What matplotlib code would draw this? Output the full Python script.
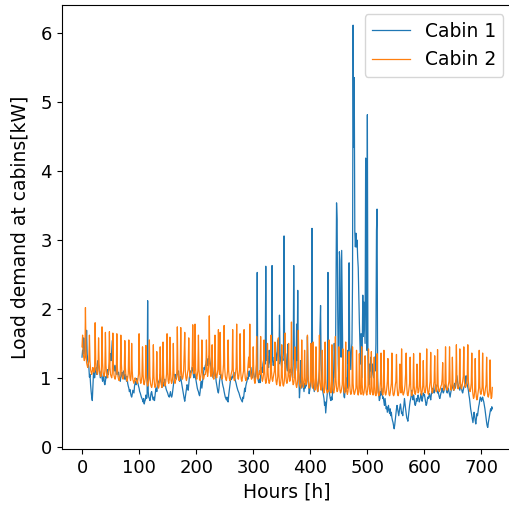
import numpy as np
import matplotlib.pyplot as plt

# hourly load, one row per day (kW)
cabin1_days = [
    [1.30, 1.40, 1.35, 1.58, 1.45, 1.35, 1.30, 1.40, 1.69, 1.35, 1.25, 1.20, 1.15, 1.01, 1.05, 0.90, 0.80, 0.72, 0.67, 0.85, 1.05, 1.10, 1.00, 1.07],
    [1.10, 1.15, 1.05, 1.20, 1.25, 1.18, 1.13, 1.08, 1.00, 1.05, 1.10, 1.00, 0.95, 0.99, 1.05, 0.93, 0.90, 0.95, 1.02, 1.00, 1.08, 1.12, 1.05, 1.15],
    [1.20, 1.29, 1.35, 1.25, 1.40, 1.54, 1.30, 1.20, 1.15, 1.10, 1.18, 1.12, 1.05, 1.15, 1.10, 1.05, 1.08, 1.02, 1.00, 0.95, 1.01, 1.05, 1.08, 1.00],
    [1.05, 1.10, 1.02, 0.98, 1.05, 1.00, 0.95, 1.02, 0.92, 0.88, 0.85, 0.80, 0.83, 0.78, 0.74, 0.72, 0.76, 0.82, 0.80, 0.78, 0.88, 0.92, 0.95, 0.90],
    [0.99, 0.95, 0.92, 0.88, 0.85, 0.80, 0.78, 0.75, 0.72, 0.70, 0.68, 0.65, 0.70, 0.62, 0.66, 0.68, 0.75, 0.70, 0.72, 2.12, 0.80, 0.72, 0.70, 0.67],
    [0.72, 0.78, 0.80, 0.75, 0.70, 0.68, 0.72, 0.67, 0.75, 0.82, 0.85, 0.80, 0.88, 0.90, 0.95, 0.93, 0.98, 1.05, 0.95, 0.92, 0.86, 0.90, 0.93, 0.88],
    [0.95, 0.98, 0.90, 0.85, 0.82, 0.80, 0.78, 0.75, 0.73, 0.72, 0.76, 0.80, 0.74, 0.72, 0.75, 0.82, 0.90, 0.95, 1.00, 1.05, 1.00, 0.98, 1.02, 1.08],
    [1.05, 1.10, 1.00, 0.95, 0.98, 1.02, 0.95, 0.90, 0.85, 0.80, 0.75, 0.70, 0.66, 0.72, 0.78, 0.85, 0.90, 0.88, 0.82, 0.90, 1.00, 1.05, 1.10, 1.08],
    [1.10, 1.15, 1.12, 1.05, 1.00, 1.08, 1.05, 1.00, 0.95, 0.90, 0.85, 0.82, 0.80, 0.76, 0.74, 0.80, 0.90, 0.95, 0.85, 0.92, 1.00, 1.08, 1.15, 1.12],
    [1.18, 1.20, 1.25, 1.22, 1.18, 1.28, 1.20, 1.32, 1.25, 1.20, 1.15, 1.10, 1.12, 1.05, 1.00, 1.08, 1.15, 1.10, 1.05, 0.95, 0.90, 0.85, 0.80, 0.78],
    [0.85, 0.95, 1.00, 1.05, 1.02, 0.98, 0.92, 0.88, 0.85, 0.80, 0.76, 0.72, 0.70, 0.68, 0.72, 0.66, 0.65, 0.75, 0.82, 0.88, 0.95, 1.00, 0.98, 1.02],
    [1.00, 1.05, 1.08, 1.02, 0.98, 0.95, 0.92, 0.88, 0.85, 0.82, 0.80, 0.78, 0.75, 0.72, 0.70, 0.68, 0.67, 0.65, 0.72, 0.70, 0.78, 0.85, 0.80, 0.88],
    [0.92, 0.95, 1.00, 0.98, 1.05, 1.10, 1.02, 1.08, 1.15, 1.05, 1.00, 1.08, 1.12, 1.05, 1.00, 0.98, 1.02, 1.10, 1.20, 2.53, 1.00, 0.95, 0.93, 0.98],
    [0.93, 1.05, 1.10, 1.15, 1.08, 1.20, 1.25, 1.30, 1.45, 1.20, 2.62, 1.30, 1.25, 1.32, 1.20, 1.15, 1.40, 1.25, 1.20, 1.15, 1.30, 2.63, 1.25, 1.18],
    [1.20, 1.30, 1.25, 1.37, 1.30, 1.25, 1.40, 1.55, 1.30, 1.20, 1.91, 1.35, 1.25, 1.20, 1.15, 1.30, 1.25, 1.40, 3.06, 1.30, 1.20, 1.35, 1.25, 1.15],
    [1.10, 1.49, 1.15, 1.07, 1.10, 1.12, 1.08, 1.15, 1.05, 1.00, 1.20, 2.63, 1.30, 1.20, 1.10, 1.15, 1.78, 1.25, 2.27, 1.10, 1.00, 0.71, 0.85, 1.25],
    [1.00, 0.85, 0.90, 0.95, 0.88, 0.80, 0.92, 0.85, 0.92, 0.88, 0.95, 1.60, 1.05, 0.90, 0.77, 0.82, 0.88, 0.95, 1.00, 3.17, 1.05, 0.90, 0.85, 0.80],
    [0.88, 0.92, 1.10, 0.95, 0.85, 0.80, 0.90, 1.00, 1.10, 1.70, 2.05, 1.20, 1.00, 0.85, 0.80, 0.75, 0.70, 0.60, 0.65, 0.49, 0.60, 0.70, 0.80, 2.53],
    [1.00, 0.80, 0.75, 0.70, 0.67, 0.72, 0.68, 0.80, 0.90, 1.10, 1.50, 1.30, 1.00, 2.20, 3.54, 3.30, 2.00, 1.20, 1.00, 2.83, 2.70, 1.50, 1.30, 2.85],
    [2.00, 1.20, 0.90, 0.73, 0.71, 0.85, 0.80, 0.95, 1.00, 0.85, 1.40, 1.20, 2.67, 1.50, 1.30, 1.12, 1.40, 1.50, 2.40, 6.12, 4.35, 5.36, 3.12, 2.90],
    [3.10, 2.90, 3.00, 2.75, 2.60, 2.20, 1.80, 1.50, 1.20, 1.64, 1.00, 1.40, 2.20, 1.60, 2.10, 1.80, 1.50, 4.19, 2.20, 1.40, 4.82, 1.30, 1.00, 0.90],
    [1.20, 1.10, 1.30, 1.00, 1.15, 1.20, 1.05, 1.00, 1.15, 1.30, 1.10, 1.50, 3.14, 3.45, 1.00, 0.80, 0.75, 0.67, 0.70, 0.80, 0.75, 0.85, 0.78, 0.70],
    [0.72, 0.65, 0.60, 0.70, 0.62, 0.55, 0.58, 0.50, 0.55, 0.60, 0.52, 0.48, 0.55, 0.45, 0.50, 0.42, 0.38, 0.35, 0.30, 0.26, 0.32, 0.40, 0.48, 0.55],
    [0.60, 0.55, 0.50, 0.45, 0.52, 0.58, 0.62, 0.55, 0.48, 0.50, 0.45, 0.55, 0.60, 0.70, 0.62, 0.55, 0.48, 0.42, 0.40, 0.37, 0.45, 0.52, 0.60, 0.66],
    [0.70, 0.75, 0.82, 0.72, 0.68, 0.75, 0.70, 0.62, 0.60, 0.63, 0.70, 0.66, 0.72, 0.75, 0.70, 0.65, 0.68, 0.72, 0.77, 0.70, 0.66, 0.72, 0.78, 0.74],
    [0.76, 0.70, 0.65, 0.60, 0.62, 0.68, 0.72, 0.70, 0.74, 0.77, 0.72, 0.68, 0.75, 0.80, 0.78, 0.85, 0.82, 0.78, 0.80, 0.88, 0.90, 0.85, 0.82, 0.78],
    [0.80, 0.76, 0.72, 0.70, 0.74, 0.78, 0.80, 0.85, 0.82, 0.78, 0.80, 0.86, 0.90, 0.88, 0.85, 0.80, 0.78, 0.82, 0.85, 0.80, 0.76, 0.72, 0.78, 0.82],
    [0.85, 0.90, 0.88, 0.82, 0.86, 0.92, 0.85, 0.90, 0.96, 1.03, 0.95, 0.90, 0.88, 0.85, 0.82, 0.86, 0.90, 0.85, 0.80, 0.78, 0.82, 0.86, 0.88, 0.90],
    [0.92, 1.03, 0.95, 0.90, 0.86, 0.82, 0.75, 0.70, 0.62, 0.55, 0.50, 0.45, 0.40, 0.35, 0.42, 0.50, 0.45, 0.38, 0.33, 0.40, 0.48, 0.45, 0.52, 0.58],
    [0.62, 0.68, 0.72, 0.70, 0.66, 0.70, 0.72, 0.68, 0.65, 0.60, 0.55, 0.48, 0.40, 0.35, 0.30, 0.28, 0.35, 0.40, 0.45, 0.50, 0.55, 0.52, 0.58, 0.55],
]

cabin2_days = [
    [1.45, 1.62, 1.35, 1.30, 1.25, 1.28, 2.02, 1.40, 1.22, 1.18, 1.15, 1.20, 1.25, 1.62, 1.25, 1.12, 1.08, 1.05, 1.10, 1.15, 1.12, 1.08, 1.10, 1.80],
    [1.25, 1.12, 1.08, 1.05, 1.10, 1.58, 1.20, 1.10, 1.05, 1.02, 1.08, 1.74, 1.22, 1.08, 1.04, 1.02, 1.10, 1.66, 1.18, 1.06, 1.02, 1.00, 1.08, 1.12],
    [1.67, 1.15, 1.05, 1.02, 1.00, 1.06, 1.65, 1.18, 1.04, 1.00, 0.98, 1.02, 1.08, 1.64, 1.15, 1.02, 0.98, 0.96, 1.00, 1.05, 1.62, 1.20, 1.05, 1.00],
    [0.98, 1.02, 1.08, 1.54, 1.15, 1.02, 0.98, 0.95, 1.00, 1.06, 1.55, 1.12, 1.00, 0.96, 1.02, 1.50, 1.10, 0.98, 0.95, 0.92, 0.96, 1.00, 0.98, 0.95],
    [0.95, 0.92, 0.98, 1.05, 1.64, 1.10, 0.96, 0.92, 0.96, 1.02, 1.45, 1.05, 0.92, 0.90, 0.95, 1.00, 1.47, 1.05, 0.92, 0.88, 0.92, 0.98, 1.55, 1.02],
    [0.92, 0.88, 0.86, 0.90, 1.00, 1.48, 1.02, 0.90, 0.86, 0.88, 0.95, 1.38, 1.00, 0.88, 0.85, 0.88, 1.00, 1.45, 1.05, 0.90, 0.86, 0.90, 1.52, 1.05],
    [0.92, 0.88, 0.90, 0.96, 1.05, 1.64, 1.08, 0.95, 0.92, 0.98, 1.59, 1.10, 0.96, 0.92, 0.95, 1.02, 1.50, 1.08, 0.95, 0.92, 0.96, 1.00, 1.05, 1.74],
    [1.12, 1.00, 0.96, 0.98, 1.05, 1.73, 1.12, 1.00, 0.98, 1.02, 1.10, 1.35, 1.66, 1.10, 1.00, 0.96, 1.00, 1.08, 1.12, 1.58, 1.15, 1.02, 1.00, 1.05],
    [1.10, 1.18, 1.77, 1.20, 1.06, 1.10, 1.78, 1.15, 1.02, 0.98, 1.04, 1.10, 1.62, 1.12, 1.00, 0.96, 1.02, 1.08, 1.55, 1.10, 1.00, 0.98, 1.02, 1.05],
    [1.05, 1.10, 1.55, 1.12, 1.02, 1.08, 1.20, 1.90, 1.25, 1.08, 1.02, 1.06, 1.48, 1.10, 1.00, 0.98, 1.04, 1.62, 1.12, 1.02, 1.00, 1.05, 1.12, 1.70],
    [1.15, 1.05, 1.66, 1.12, 1.02, 0.98, 1.00, 1.08, 1.20, 1.76, 1.15, 1.02, 0.98, 0.96, 1.02, 1.10, 1.55, 1.10, 1.00, 0.96, 0.98, 1.04, 1.08, 1.12],
    [1.70, 1.12, 1.00, 0.96, 1.00, 1.06, 1.15, 1.78, 1.12, 1.00, 0.98, 1.04, 1.12, 1.64, 1.10, 0.98, 0.95, 1.00, 1.05, 1.10, 1.70, 1.12, 1.00, 0.96],
    [0.98, 1.02, 1.08, 1.20, 1.30, 1.15, 1.78, 1.15, 1.02, 0.98, 1.00, 1.10, 1.45, 1.08, 0.96, 0.92, 0.98, 1.02, 1.60, 1.12, 1.00, 0.98, 1.05, 1.10],
    [1.05, 1.60, 1.12, 1.00, 0.95, 0.98, 1.05, 1.55, 1.10, 0.98, 0.92, 0.95, 1.02, 1.50, 1.08, 0.96, 0.92, 0.95, 1.00, 1.62, 1.10, 0.98, 0.95, 1.00],
    [1.05, 1.10, 1.52, 1.08, 0.95, 0.90, 0.95, 1.02, 1.58, 1.06, 0.92, 0.88, 0.92, 1.00, 1.48, 1.04, 0.90, 0.88, 0.92, 1.00, 1.65, 1.08, 0.95, 0.92],
    [0.95, 1.02, 1.50, 1.05, 0.95, 0.98, 1.10, 1.81, 1.12, 0.96, 0.90, 0.92, 1.00, 1.45, 1.02, 0.90, 0.86, 0.90, 0.98, 1.69, 1.08, 0.92, 0.88, 0.85],
    [0.90, 1.55, 1.02, 0.90, 0.86, 0.92, 1.40, 1.00, 0.90, 0.92, 1.00, 1.62, 1.05, 0.90, 0.85, 0.88, 0.95, 1.50, 1.00, 0.88, 0.85, 1.52, 1.00, 0.88],
    [0.82, 0.85, 1.45, 0.98, 0.85, 0.80, 0.85, 0.92, 1.62, 0.98, 0.86, 0.82, 0.88, 1.40, 0.95, 0.82, 0.78, 0.82, 1.52, 0.98, 0.85, 0.80, 0.78, 0.82],
    [0.80, 1.55, 0.95, 0.82, 0.78, 0.80, 1.48, 0.95, 0.82, 0.78, 0.82, 0.90, 1.60, 0.98, 0.85, 0.80, 0.82, 0.88, 1.45, 0.95, 0.82, 0.78, 0.80, 0.85],
    [0.90, 1.42, 0.95, 0.82, 0.78, 0.80, 1.52, 0.92, 0.80, 0.76, 0.80, 0.88, 1.38, 0.92, 0.80, 0.76, 0.78, 0.85, 1.45, 0.92, 0.80, 0.76, 0.78, 0.82],
    [0.85, 1.40, 0.90, 0.78, 0.75, 0.80, 1.35, 0.88, 0.78, 0.76, 1.45, 0.90, 0.78, 0.75, 0.78, 0.85, 1.32, 0.90, 0.78, 0.75, 0.80, 0.88, 1.42, 0.92],
    [0.80, 0.76, 0.80, 1.38, 0.88, 0.78, 0.75, 0.78, 1.30, 0.88, 0.76, 0.74, 0.78, 1.35, 0.90, 0.78, 0.74, 0.76, 0.82, 0.95, 1.36, 0.88, 0.78, 0.75],
    [0.80, 1.40, 0.90, 0.78, 0.75, 0.78, 0.85, 0.95, 1.28, 0.88, 0.76, 0.74, 0.78, 0.85, 0.92, 1.36, 0.88, 0.76, 0.74, 0.76, 0.82, 0.90, 0.95, 1.34],
    [0.88, 0.76, 0.74, 0.78, 0.85, 1.20, 0.88, 0.78, 1.42, 0.90, 0.78, 0.75, 0.78, 0.82, 0.90, 1.05, 1.36, 0.88, 0.76, 0.74, 0.78, 0.85, 0.92, 1.30],
    [0.88, 0.76, 0.74, 0.78, 0.85, 1.35, 0.88, 0.78, 0.76, 0.80, 0.88, 1.20, 0.86, 0.78, 0.80, 0.88, 1.36, 0.90, 0.78, 0.75, 0.80, 0.88, 1.25, 0.88],
    [0.80, 0.78, 0.82, 0.90, 1.42, 0.88, 0.78, 0.76, 0.80, 0.88, 0.95, 1.37, 0.90, 0.80, 0.78, 0.82, 0.88, 0.95, 1.32, 0.90, 0.82, 0.80, 0.88, 1.41],
    [0.90, 0.82, 0.80, 0.82, 0.85, 0.88, 0.90, 0.98, 1.22, 0.88, 0.82, 0.85, 0.92, 1.45, 0.92, 0.84, 0.82, 0.85, 0.90, 0.95, 1.45, 0.92, 0.84, 0.82],
    [0.88, 1.30, 0.92, 0.85, 0.82, 0.85, 0.90, 0.98, 1.48, 0.94, 0.86, 0.84, 0.86, 0.92, 1.42, 0.94, 0.86, 0.84, 0.88, 0.95, 1.02, 1.45, 0.95, 0.88],
    [0.86, 0.88, 0.92, 1.00, 1.48, 0.95, 0.86, 0.82, 0.80, 0.84, 0.92, 1.36, 0.86, 0.76, 0.70, 0.72, 0.80, 1.28, 0.82, 0.72, 0.68, 0.72, 0.78, 0.85],
    [1.40, 0.88, 0.78, 0.76, 0.80, 0.86, 1.36, 0.86, 0.76, 0.74, 0.78, 0.85, 0.90, 1.30, 0.82, 0.74, 0.72, 0.76, 0.84, 1.26, 0.80, 0.70, 0.72, 0.86],
]

cabin1 = np.concatenate(cabin1_days)
cabin2 = np.concatenate(cabin2_days)
hours = np.arange(len(cabin1))

fig = plt.figure(figsize=(5.1, 5.13), dpi=100)
ax = fig.add_axes([0.1206, 0.1248, 0.885, 0.8655])

ax.plot(hours, cabin1, color='tab:blue', lw=0.9, label='Cabin 1')
ax.plot(hours, cabin2, color='tab:orange', lw=0.9, label='Cabin 2')

ax.set_xlabel('Hours [h]', fontsize=13.5)
ax.set_ylabel('Load demand at cabins[kW]', fontsize=13.5, labelpad=8)
ax.tick_params(labelsize=13)
ax.legend(loc='upper right', fontsize=13.5)

fig.savefig('out.png', dpi=100)
